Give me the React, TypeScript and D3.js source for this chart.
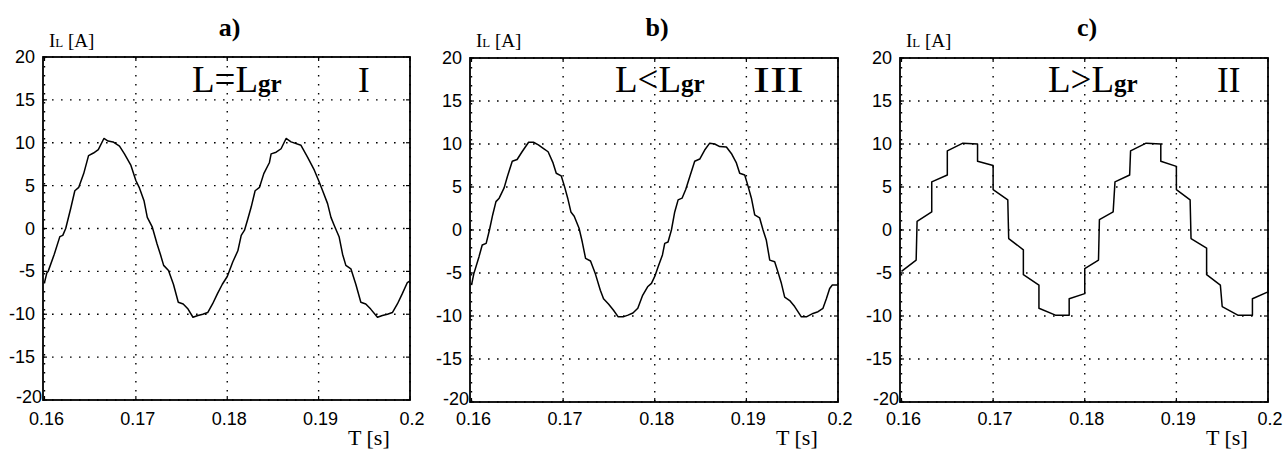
import React from "react";
import * as d3 from "d3";

// ---------- data ----------
const xTickValues = [0.16, 0.17, 0.18, 0.19, 0.2];
const xTickLabels = ["0.16", "0.17", "0.18", "0.19", "0.2"];
const yTickValues = [20, 15, 10, 5, 0, -5, -10, -15, -20];
const yTickLabels = ["20", "15", "10", "5", "0", "-5", "-10", "-15", "-20"];

const panelTitles = ["a)", "b)", "c)"];
const panelConditions = ["=", "<", ">"];
const panelNumerals = ["I", "III", "II"];

// Panel a: L = Lgr
const aTime = [
  0.16, 0.16025, 0.1604, 0.16107, 0.16168, 0.162, 0.16232, 0.16286, 0.16332, 0.16375,
  0.16429, 0.16482, 0.16536, 0.16589, 0.1665, 0.16696, 0.1675, 0.16821, 0.16875, 0.16946,
  0.17, 0.17036, 0.1709, 0.17125, 0.1718, 0.17232, 0.17268, 0.17304, 0.17357, 0.17411,
  0.17464, 0.17518, 0.17571, 0.17625, 0.17679, 0.17732, 0.17786, 0.17839, 0.17893, 0.17946,
  0.18, 0.1806, 0.18116, 0.18153, 0.18189, 0.18225, 0.18262, 0.18305, 0.18353, 0.184,
  0.18462, 0.1848, 0.18535, 0.18589, 0.18644, 0.18698, 0.18807, 0.1888, 0.18953, 0.19,
  0.19044, 0.19098, 0.19135, 0.19171, 0.19225, 0.19262, 0.19298, 0.19353, 0.19407, 0.19462,
  0.19516, 0.1957, 0.19644, 0.19698, 0.19753, 0.19807, 0.19862, 0.19916, 0.19971, 0.2,
];
const aCurrent = [
  -6.3, -5.2, -5.0, -3.0, -0.95, -0.8, 0.0, 2.3, 4.4, 4.8,
  6.4, 8.5, 8.8, 9.2, 10.5, 10.2, 10.1, 9.6, 8.7, 7.35,
  5.6, 4.8, 3.2, 1.3, 0.15, -1.8, -3.0, -4.3, -4.9, -6.5,
  -8.6, -8.8, -9.4, -10.35, -10.15, -10.0, -9.8, -8.8, -7.6, -6.5,
  -5.6, -3.9, -2.6, -0.8, -0.2, 1.1, 2.5, 4.4, 4.8, 6.4,
  7.7, 8.7, 8.9, 9.3, 10.5, 10.1, 9.7, 8.3, 6.8, 5.6,
  4.4, 2.9, 1.3, 0.35, -1.0, -3.0, -4.3, -4.7, -6.5, -8.6,
  -8.8, -9.4, -10.35, -10.15, -10.0, -9.8, -8.8, -7.6, -6.3, -6.1,
];

// Panel b: L < Lgr
const bTime = [
  0.16, 0.16025, 0.16082, 0.16117, 0.1616, 0.16196, 0.16231, 0.16267, 0.16302, 0.16356,
  0.16391, 0.16445, 0.16498, 0.16552, 0.16623, 0.16676, 0.1673, 0.16783, 0.16836, 0.1689,
  0.16925, 0.16979, 0.17014, 0.1705, 0.17085, 0.17121, 0.17174, 0.17209, 0.17245, 0.17299,
  0.17352, 0.17406, 0.17441, 0.17495, 0.17548, 0.17601, 0.17655, 0.17708, 0.17762, 0.17815,
  0.17868, 0.17922, 0.17964, 0.18, 0.18036, 0.18084, 0.18109, 0.18145, 0.18182, 0.18218,
  0.18255, 0.18298, 0.18338, 0.18382, 0.18436, 0.18491, 0.18545, 0.186, 0.18655, 0.18709,
  0.18782, 0.18836, 0.18891, 0.18927, 0.18982, 0.19018, 0.19055, 0.19091, 0.19145, 0.19182,
  0.19218, 0.19255, 0.19309, 0.19345, 0.19382, 0.19418, 0.19473, 0.19527, 0.196, 0.19655,
  0.19727, 0.19782, 0.19836, 0.19873, 0.19909, 0.19938, 0.2,
];
const bCurrent = [
  -6.4, -5.1, -3.1, -1.75, -1.55, 0.0, 1.75, 3.3, 3.7, 4.9,
  6.2, 8.0, 8.2, 9.1, 10.2, 10.2, 9.9, 9.5, 9.1, 7.8,
  6.6, 6.3, 5.1, 3.7, 2.1, 1.6, 0.2, -1.4, -3.3, -3.6,
  -5.1, -7.0, -8.0, -8.6, -9.3, -10.1, -10.1, -9.9, -9.65, -9.1,
  -7.6, -6.6, -6.2, -5.4, -4.3, -2.9, -1.55, -1.4, 0.0, 2.1,
  3.5, 3.7, 4.7, 6.2, 8.0, 8.25, 9.3, 10.1, 10.0, 9.7,
  9.65, 8.9, 7.8, 6.6, 6.4, 5.1, 3.7, 1.75, 1.4, 0.0,
  -1.2, -3.5, -3.7, -4.9, -6.2, -7.8, -8.2, -8.9, -10.1, -10.1,
  -9.7, -9.5, -9.1, -8.0, -6.8, -6.4, -6.4,
];

// Panel c: L > Lgr (stepped waveform)
const cTime = [
  0.16, 0.1616, 0.1617, 0.1633, 0.1633, 0.165, 0.165, 0.1667, 0.1683, 0.1683,
  0.17, 0.17, 0.1716, 0.1717, 0.1733, 0.1733, 0.175, 0.175, 0.1768, 0.1783,
  0.1783, 0.18, 0.18, 0.1815, 0.1816, 0.1831, 0.1833, 0.1849, 0.185, 0.1867,
  0.1883, 0.1883, 0.19, 0.19, 0.1915, 0.1916, 0.1933, 0.1933, 0.1948, 0.195,
  0.1967, 0.1983, 0.1983, 0.2, 0.2,
];
const cCurrent = [
  -4.8, -3.5, 1.0, 2.1, 5.6, 6.4, 9.2, 10.1, 10.0, 8.0,
  7.5, 4.7, 3.5, -1.0, -2.3, -5.2, -6.4, -9.1, -9.9, -9.9,
  -8.0, -7.4, -4.5, -3.5, 1.2, 2.1, 5.6, 6.4, 9.2, 10.1,
  10.0, 8.0, 7.4, 4.7, 3.5, -1.0, -2.1, -5.2, -6.4, -8.9,
  -9.9, -9.9, -8.0, -7.2, -4.5,
];

// ---------- layout ----------
const W = 1285;
const H = 450;
const layouts = [
  { left: 43, right: 410, top: 57, bottom: 400, condX: 149, numX: 315, numScale: 1 },
  { left: 470, right: 838, top: 58, bottom: 402, condX: 145, numX: 283, numScale: 1.45 },
  { left: 900, right: 1268, top: 58, bottom: 402, condX: 148, numX: 317, numScale: 1 },
];
const series = [
  { time: aTime, current: aCurrent },
  { time: bTime, current: bCurrent },
  { time: cTime, current: cCurrent },
];

const SERIF = "'Liberation Serif', 'Times New Roman', serif";
const SANS = "'Liberation Sans', Arial, sans-serif";

function Panel({ idx }: { idx: number }) {
  const L = layouts[idx];
  const s = series[idx];
  const x = d3.scaleLinear().domain([0.16, 0.2]).range([L.left + 1.5, L.right]);
  const y = d3.scaleLinear().domain([-20, 20]).range([L.bottom, L.top]);
  const pts: [number, number][] = s.time.map((t, i) => [t, s.current[i]]);
  const line = d3
    .line<[number, number]>()
    .x((d) => x(d[0]))
    .y((d) => y(d[1]));
  const dash = "1.6 7.4";
  const cx = (L.left + L.right) / 2;
  const numX = L.left + L.numX;
  return (
    <g>
      {/* grid */}
      {xTickValues.map((v) => (
        <line key={"gx" + v} x1={x(v)} x2={x(v)} y1={L.top} y2={L.bottom} stroke="#000" strokeWidth={1.4} strokeDasharray={dash} />
      ))}
      {yTickValues.map((v) => (
        <line key={"gy" + v} x1={L.left} x2={L.right} y1={y(v)} y2={y(v)} stroke="#000" strokeWidth={1.4} strokeDasharray={dash} />
      ))}
      {/* ticks (inward) */}
      {xTickValues.map((v) => (
        <g key={"tx" + v}>
          <line x1={x(v)} x2={x(v)} y1={L.bottom} y2={L.bottom - 4} stroke="#000" strokeWidth={1.2} />
          <line x1={x(v)} x2={x(v)} y1={L.top} y2={L.top + 4} stroke="#000" strokeWidth={1.2} />
        </g>
      ))}
      {yTickValues.map((v) => (
        <g key={"ty" + v}>
          <line x1={L.left} x2={L.left + 4} y1={y(v)} y2={y(v)} stroke="#000" strokeWidth={1.2} />
          <line x1={L.right} x2={L.right - 4} y1={y(v)} y2={y(v)} stroke="#000" strokeWidth={1.2} />
        </g>
      ))}
      {/* curve */}
      <path d={line(pts) || ""} fill="none" stroke="#000" strokeWidth={1.5} strokeLinejoin="round" />
      {/* box */}
      <rect x={L.left} y={L.top} width={L.right - L.left} height={L.bottom - L.top} fill="none" stroke="#000" strokeWidth={1.8} />
      {/* tick labels */}
      {xTickValues.map((v, i) => (
        <text key={"lx" + v} x={x(v) + 2} y={425} textAnchor="middle" fontFamily={SANS} fontSize={18} fill="#000">
          {xTickLabels[i]}
        </text>
      ))}
      {yTickValues.map((v, i) => {
        const last = i === yTickValues.length - 1;
        return (
          <text key={"ly" + v} x={last ? L.left - 1 : L.left - 8} y={last ? y(v) + 3 : y(v) + 6} textAnchor="end" fontFamily={SANS} fontSize={18} fill="#000">
            {yTickLabels[i]}
          </text>
        );
      })}
      {/* y label */}
      <text x={L.left + 6} y={47} fontFamily={SERIF} fontSize={19} fill="#000">
        I<tspan fontSize={13}>L</tspan> [A]
      </text>
      {/* title */}
      <text x={cx + 3} y={36} textAnchor="middle" fontFamily={SERIF} fontWeight="bold" fontSize={26} fill="#000">
        {panelTitles[idx]}
      </text>
      {/* condition */}
      <text x={L.left + L.condX} y={92} fontFamily={SERIF} fontSize={37} fill="#000">
        L{panelConditions[idx]}L<tspan fontWeight="bold" fontSize={25}>gr</tspan>
      </text>
      <text
        x={0}
        y={0}
        transform={`translate(${numX},92) scale(${L.numScale},1)`}
        fontFamily={SERIF}
        fontSize={35}
        fill="#000"
      >
        {panelNumerals[idx]}
      </text>
      {/* x label */}
      <text x={L.right - 62} y={445} fontFamily={SERIF} fontSize={22} fill="#000">
        T [s]
      </text>
    </g>
  );
}

export default function App() {
  return (
    <svg width={W} height={H} style={{ position: "absolute", left: 0, top: 0, background: "#fff" }}>
      <rect x={0} y={0} width={W} height={H} fill="#fff" />
      {[0, 1, 2].map((i) => (
        <Panel key={i} idx={i} />
      ))}
    </svg>
  );
}
